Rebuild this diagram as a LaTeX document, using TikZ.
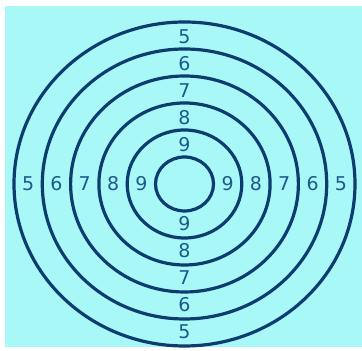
\documentclass[tikz,border=0pt]{standalone}
\usepackage{fontspec}
\setsansfont{DejaVu Sans}
\usepackage{xcolor}
\definecolor{targetcyan}{HTML}{A9F8F8}
\definecolor{ringnavy}{HTML}{0D3C6E}
\definecolor{scoreblue}{HTML}{1B5A8C}

\begin{document}
\begin{tikzpicture}[
  x=0.25mm, y=0.25mm,
  ring/.style={draw=ringnavy, line width=0.8mm},
  score/.style={font=\sffamily\fontsize{13.5}{14}\selectfont, text=scoreblue,
    inner sep=0pt}
]
\useasboundingbox (0,0) rectangle (362,351);

% ---- Background ----
\fill[targetcyan] (5,4) rectangle (362,345);

% ---- Rings ----
\coordinate (bull) at (184.5,167);
\foreach \k in {0,...,5} {
  \draw[ring] (bull) ellipse [x radius={29+28.3*\k}, y radius={27+27*\k}];
}

% ---- Scores in each band ----
\foreach \j in {1,...,5} {
  \pgfmathsetmacro{\rx}{29+28.3*(\j-0.5)}
  \pgfmathsetmacro{\ry}{27+27*(\j-0.5)}
  \pgfmathtruncatemacro{\val}{10-\j}
  \node[score] (top\val) at (184.5,166+\ry) {\val};
  \node[score] (bot\val) at (184.5,168-\ry) {\val};
  \node[score] (lft\val) at (184.5-\rx,167) {\val};
  \node[score] (rgt\val) at (184.5+\rx,167) {\val};
}

\end{tikzpicture}
\end{document}
